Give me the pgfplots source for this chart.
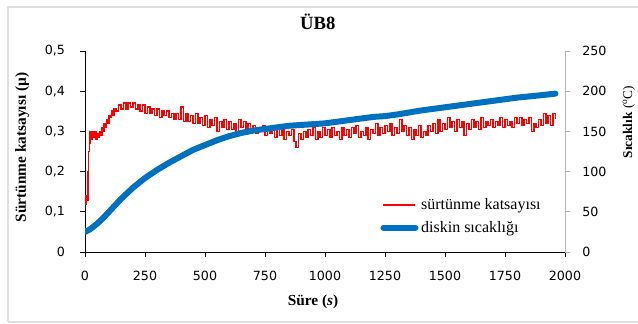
\documentclass[border=0pt]{standalone}
\usepackage{fontspec}
\setmainfont{Liberation Serif}
\newfontfamily\tickfont{DejaVu Sans}
\usepackage{pgfplots}
\pgfplotsset{compat=1.18}
\definecolor{exred}{RGB}{255,0,0}
\definecolor{exblue}{RGB}{0,112,192}
\begin{document}
\begin{tikzpicture}
\useasboundingbox (-63.75pt,-54pt) rectangle (414.75pt,189pt);
\draw[gray!25,line width=0.8pt] (-57.75pt,-52.5pt) -- (-57.75pt,183.75pt) -- (414.75pt,183.75pt);
\draw[gray!25,line width=0.8pt] (-57.75pt,-52.5pt) -- (414.75pt,-52.5pt);
\pgfplotsset{
  every tick label/.append style={font=\tickfont\fontsize{9.5}{11}\selectfont},
  /pgf/number format/assume math mode=true,
}
\begin{axis}[
  at={(0pt,0pt)}, anchor=south west,
  scale only axis, width=360pt, height=150.75pt,
  xmin=0, xmax=2000, ymin=0, ymax=0.5,
  axis x line*=bottom, axis y line*=left,
  xtick={0,250,...,2000}, ytick={0,0.1,...,0.5},
  tick align=outside, major tick length=3.5pt,
  tick style={black, line width=0.5pt},
  axis line style={black, line width=0.6pt, -},
  x tick label style={/pgf/number format/1000 sep={}, yshift=-7pt},
  y tick label style={/pgf/number format/.cd, fixed, precision=1, use comma, /tikz/.cd, xshift=-8pt},
  xlabel={\textbf{Süre (\textit{s})}},
  xlabel style={at={(axis description cs:0.475,-0.249)}, anchor=center, font=\fontsize{11.5}{13}\selectfont},
  ylabel={\textbf{Sürtünme katsayısı (µ)}},
  ylabel style={at={(axis description cs:-0.131,0.52)}, rotate=0, anchor=center, font=\fontsize{11.5}{13}\selectfont},
  title={\textbf{ÜB8}},
  title style={at={(axis description cs:0.485,1.104)}, anchor=center, font=\fontsize{14}{16}\selectfont},
]
\addplot[exred, line width=1.2pt, const plot, line join=miter] coordinates {
(0,0.12) (5,0.14) (8,0.13) (12,0.20) (15,0.25) (18,0.27) (21,0.30) (25,0.28) (30,0.30) (35,0.285)
(40,0.30) (45,0.28) (50,0.295) (55,0.285) (60,0.30) (65,0.29) (70,0.31) (75,0.30) (80,0.32) (85,0.31)
(90,0.33) (95,0.32) (100,0.34) (105,0.335) (110,0.35) (115,0.34) (120,0.355) (130,0.35) (140,0.365) (150,0.355)
(160,0.37) (170,0.355) (180,0.37) (190,0.36) (200,0.37) (210,0.355) (220,0.365) (230,0.35) (240,0.365) (250,0.345)
(260,0.36) (270,0.345) (280,0.355) (290,0.34) (300,0.355) (310,0.335) (320,0.35) (330,0.34) (340,0.35) (350,0.335)
(360,0.345) (370,0.33) (380,0.345) (390,0.33) (400,0.36) (410,0.325) (420,0.345) (430,0.325) (440,0.34) (450,0.32)
(460,0.345) (470,0.32) (480,0.335) (490,0.315) (500,0.34) (510,0.31) (520,0.33) (530,0.315) (540,0.335) (550,0.30)
(560,0.325) (570,0.31) (580,0.33) (590,0.305) (600,0.325) (610,0.305) (620,0.32) (630,0.30) (640,0.33) (650,0.31)
(660,0.325) (670,0.30) (680,0.32) (690,0.305) (700,0.315) (710,0.295) (720,0.31) (730,0.30) (740,0.315) (750,0.29)
(760,0.31) (770,0.295) (780,0.305) (790,0.285) (800,0.31) (810,0.29) (820,0.305) (830,0.28) (840,0.30) (850,0.29)
(860,0.305) (870,0.275) (880,0.26) (890,0.295) (900,0.28) (910,0.30) (920,0.285) (930,0.305) (940,0.29) (950,0.31)
(960,0.28) (970,0.30) (980,0.285) (990,0.31) (1000,0.29) (1010,0.305) (1020,0.285) (1030,0.31) (1040,0.29) (1050,0.30)
(1060,0.28) (1070,0.31) (1080,0.29) (1090,0.305) (1100,0.285) (1110,0.31) (1120,0.295) (1130,0.315) (1140,0.285) (1150,0.30)
(1160,0.29) (1170,0.31) (1180,0.28) (1190,0.305) (1200,0.295) (1210,0.32) (1220,0.29) (1230,0.31) (1240,0.295) (1250,0.315)
(1260,0.30) (1270,0.32) (1280,0.29) (1290,0.31) (1300,0.295) (1310,0.33) (1320,0.30) (1330,0.315) (1340,0.29) (1350,0.31)
(1360,0.28) (1370,0.305) (1380,0.29) (1390,0.315) (1400,0.285) (1410,0.30) (1420,0.29) (1430,0.315) (1440,0.30) (1450,0.32)
(1460,0.295) (1470,0.33) (1480,0.30) (1490,0.32) (1500,0.305) (1510,0.335) (1520,0.31) (1530,0.325) (1540,0.30) (1550,0.33)
(1560,0.31) (1570,0.325) (1580,0.29) (1590,0.32) (1600,0.305) (1610,0.33) (1620,0.31) (1630,0.325) (1640,0.305) (1650,0.335)
(1660,0.31) (1670,0.325) (1680,0.315) (1690,0.33) (1700,0.31) (1710,0.325) (1720,0.315) (1730,0.335) (1740,0.31) (1750,0.33)
(1760,0.315) (1770,0.325) (1780,0.31) (1790,0.335) (1800,0.32) (1810,0.335) (1820,0.315) (1830,0.33) (1840,0.32) (1850,0.335)
(1860,0.30) (1870,0.32) (1880,0.31) (1890,0.33) (1900,0.315) (1910,0.345) (1920,0.32) (1930,0.34) (1940,0.315) (1950,0.345)
(1960,0.33)
};
\end{axis}
\begin{axis}[
  at={(0pt,0pt)}, anchor=south west,
  scale only axis, width=360pt, height=150.75pt,
  xmin=0, xmax=2000, ymin=0, ymax=250,
  axis x line=none, axis y line*=right,
  ytick={0,50,...,250},
  tick align=outside, major tick length=3.5pt,
  tick style={gray!60, line width=0.5pt},
  axis line style={gray!60, line width=0.6pt, -},
  y tick label style={xshift=6pt},
  ylabel={\textbf{Sıcaklık} (\textsuperscript{o}C)},
  ylabel style={at={(axis description cs:1.133,0.647)}, rotate=0, anchor=center, font=\fontsize{10}{12}\selectfont},
  legend style={at={(axis description cs:0.615,0.28)}, anchor=north west, draw=none, fill=none,
    font=\fontsize{12}{14}\selectfont, row sep=3pt, inner sep=0pt,
    /tikz/every even column/.append style={column sep=0pt}},
  legend cell align=left,
  legend image code/.code={\draw[#1] (0pt,0pt) -- (24pt,0pt);},
]
\addlegendimage{exred, line width=1.3pt}
\addlegendentry{sürtünme katsayısı}
\addplot[exblue, line width=4.5pt, line join=round, line cap=round] coordinates {
(0,25) (20,28) (50,35) (75,42) (100,50) (125,58) (150,66) (175,73) (200,80) (250,92)
(300,102) (350,111) (400,119) (450,127) (500,133) (550,139) (600,144) (650,148) (700,151) (750,153)
(800,155) (850,157) (900,158) (950,159) (1000,160) (1100,164) (1200,168) (1250,169) (1300,171) (1400,176)
(1500,180) (1600,184) (1700,188) (1750,190) (1800,192) (1900,195) (1960,197)
};
\addlegendentry{diskin sıcaklığı}
\end{axis}
\end{tikzpicture}
\end{document}
